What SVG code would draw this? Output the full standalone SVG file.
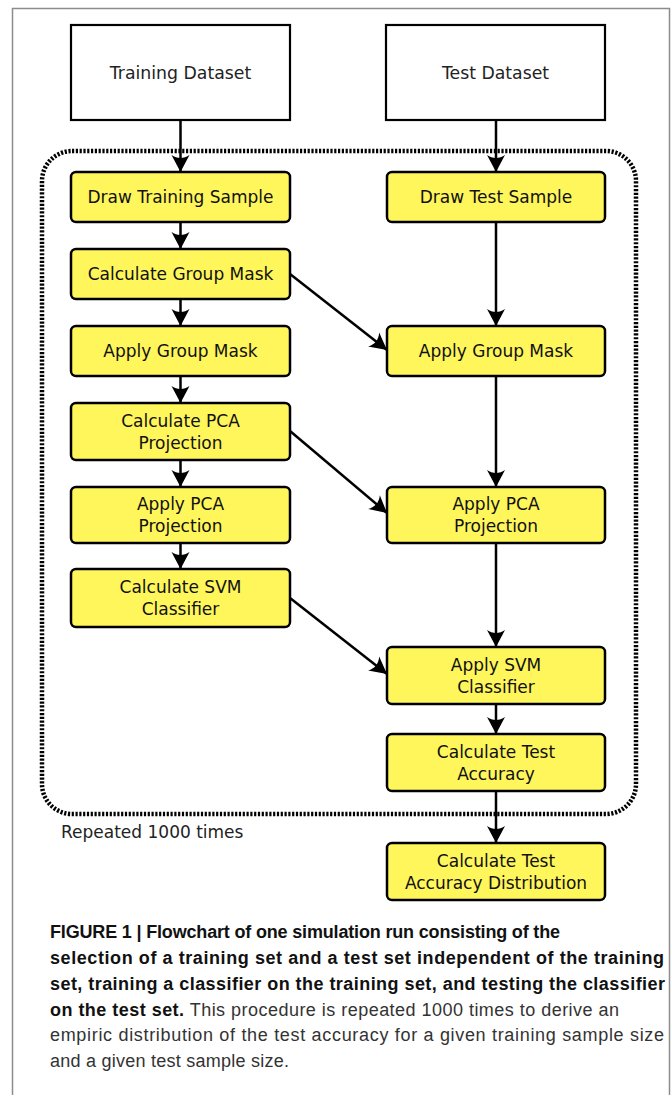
<svg xmlns="http://www.w3.org/2000/svg" width="671" height="1095" viewBox="0 0 671 1095">
<style>
.frame{fill:none;stroke:#8c8c8c;stroke-width:1.5}
.src{fill:#fff;stroke:#000;stroke-width:2.2}
.step{fill:#fff65c;stroke:#000;stroke-width:2.5}
.lbl{font-family:"DejaVu Sans",sans-serif;font-size:17px;fill:#111;text-anchor:middle}
.lbl2{font-family:"DejaVu Sans",sans-serif;font-size:17.3px;fill:#222;text-anchor:middle}
.loop{fill:none;stroke:#000;stroke-width:4.5;stroke-dasharray:2.2 1.6}
.conn line{stroke:#000;stroke-width:2.5;marker-end:url(#ah)}
.cap{font-family:"Liberation Sans Narrow","Liberation Sans",Arial,sans-serif;font-size:18px;fill:#333}
.capb{font-weight:bold;fill:#111}
</style>
<defs>
<marker id="ah" markerUnits="userSpaceOnUse" orient="auto" viewBox="-19 -10 20 20" refX="0" refY="0" markerWidth="20" markerHeight="20">
<path d="M0,0 L-17,-9 C-13,-3.5 -13,3.5 -17,9 Z" fill="#000"/>
</marker>
</defs>
<rect width="671" height="1095" fill="#fff"/>
<path class="frame" d="M12.5,1095 V8.5 H669.5 V1095"/>

<g id="loop">
<rect class="loop" x="42" y="151" width="594" height="663" rx="30" ry="30"/>
<text x="61" y="838" style="font-family:'DejaVu Sans',sans-serif;font-size:17px;fill:#222">Repeated 1000 times</text>
</g>

<g class="conn" id="connectors">
<line x1="180.5" y1="120" x2="180.5" y2="172"/>
<line x1="496" y1="120" x2="496" y2="172"/>
<line x1="180.5" y1="222" x2="180.5" y2="249"/>
<line x1="180.5" y1="299" x2="180.5" y2="326"/>
<line x1="180.5" y1="376" x2="180.5" y2="403"/>
<line x1="180.5" y1="460" x2="180.5" y2="487"/>
<line x1="180.5" y1="543" x2="180.5" y2="569"/>
<line x1="496" y1="222" x2="496" y2="326"/>
<line x1="496" y1="376" x2="496" y2="487"/>
<line x1="496" y1="543" x2="496" y2="647"/>
<line x1="496" y1="704" x2="496" y2="734"/>
<line x1="496" y1="791" x2="496" y2="843"/>
<line x1="290" y1="274" x2="387" y2="350"/>
<line x1="290" y1="431" x2="387" y2="513"/>
<line x1="290" y1="598" x2="387" y2="674"/>
</g>

<g id="training-dataset"><rect class="src" x="71" y="25" width="219" height="95"/><text class="lbl2" x="180.5" y="78.5">Training Dataset</text></g>
<g id="test-dataset"><rect class="src" x="386" y="25" width="219" height="95"/><text class="lbl2" x="495.5" y="78.5">Test Dataset</text></g>

<g id="draw-training-sample"><rect class="step" x="71" y="172" width="219" height="50" rx="5"/><text class="lbl" x="180.5" y="203">Draw Training Sample</text></g>
<g id="calc-group-mask"><rect class="step" x="71" y="249" width="219" height="50" rx="5"/><text class="lbl" x="180.5" y="280">Calculate Group Mask</text></g>
<g id="apply-group-mask-train"><rect class="step" x="71" y="326" width="219" height="50" rx="5"/><text class="lbl" x="180.5" y="357">Apply Group Mask</text></g>
<g id="calc-pca"><rect class="step" x="71" y="403" width="219" height="57" rx="5"/><text class="lbl" x="180.5" y="426.5">Calculate PCA</text><text class="lbl" x="180.5" y="448.5">Projection</text></g>
<g id="apply-pca-train"><rect class="step" x="71" y="487" width="219" height="56" rx="5"/><text class="lbl" x="180.5" y="510">Apply PCA</text><text class="lbl" x="180.5" y="532">Projection</text></g>
<g id="calc-svm"><rect class="step" x="71" y="569" width="219" height="58" rx="5"/><text class="lbl" x="180.5" y="593">Calculate SVM</text><text class="lbl" x="180.5" y="615">Classifier</text></g>

<g id="draw-test-sample"><rect class="step" x="387" y="172" width="218" height="50" rx="5"/><text class="lbl" x="496" y="203">Draw Test Sample</text></g>
<g id="apply-group-mask-test"><rect class="step" x="387" y="326" width="218" height="50" rx="5"/><text class="lbl" x="496" y="357">Apply Group Mask</text></g>
<g id="apply-pca-test"><rect class="step" x="387" y="487" width="218" height="56" rx="5"/><text class="lbl" x="496" y="510">Apply PCA</text><text class="lbl" x="496" y="532">Projection</text></g>
<g id="apply-svm"><rect class="step" x="387" y="647" width="218" height="57" rx="5"/><text class="lbl" x="496" y="670.5">Apply SVM</text><text class="lbl" x="496" y="692.5">Classifier</text></g>
<g id="calc-test-accuracy"><rect class="step" x="387" y="734" width="218" height="57" rx="5"/><text class="lbl" x="496" y="757.5">Calculate Test</text><text class="lbl" x="496" y="779.5">Accuracy</text></g>
<g id="calc-test-accuracy-dist"><rect class="step" x="387" y="843" width="218" height="57" rx="5"/><text class="lbl" x="496" y="866.5">Calculate Test</text><text class="lbl" x="496" y="888.5">Accuracy Distribution</text></g>

<g id="caption" class="cap">
<text x="50" y="938" class="capb" textLength="510" lengthAdjust="spacing">FIGURE 1 | Flowchart of one simulation run consisting of the</text>
<text x="50" y="964" class="capb" textLength="614" lengthAdjust="spacing">selection of a training set and a test set independent of the training</text>
<text x="50" y="990" class="capb" textLength="615" lengthAdjust="spacing">set, training a classifier on the training set, and testing the classifier</text>
<text x="50" y="1015.5" textLength="569" lengthAdjust="spacing"><tspan class="capb">on the test set.</tspan> This procedure is repeated 1000 times to derive an</text>
<text x="50" y="1041" textLength="614" lengthAdjust="spacing">empiric distribution of the test accuracy for a given training sample size</text>
<text x="50" y="1067" textLength="239" lengthAdjust="spacing">and a given test sample size.</text>
</g>
</svg>
